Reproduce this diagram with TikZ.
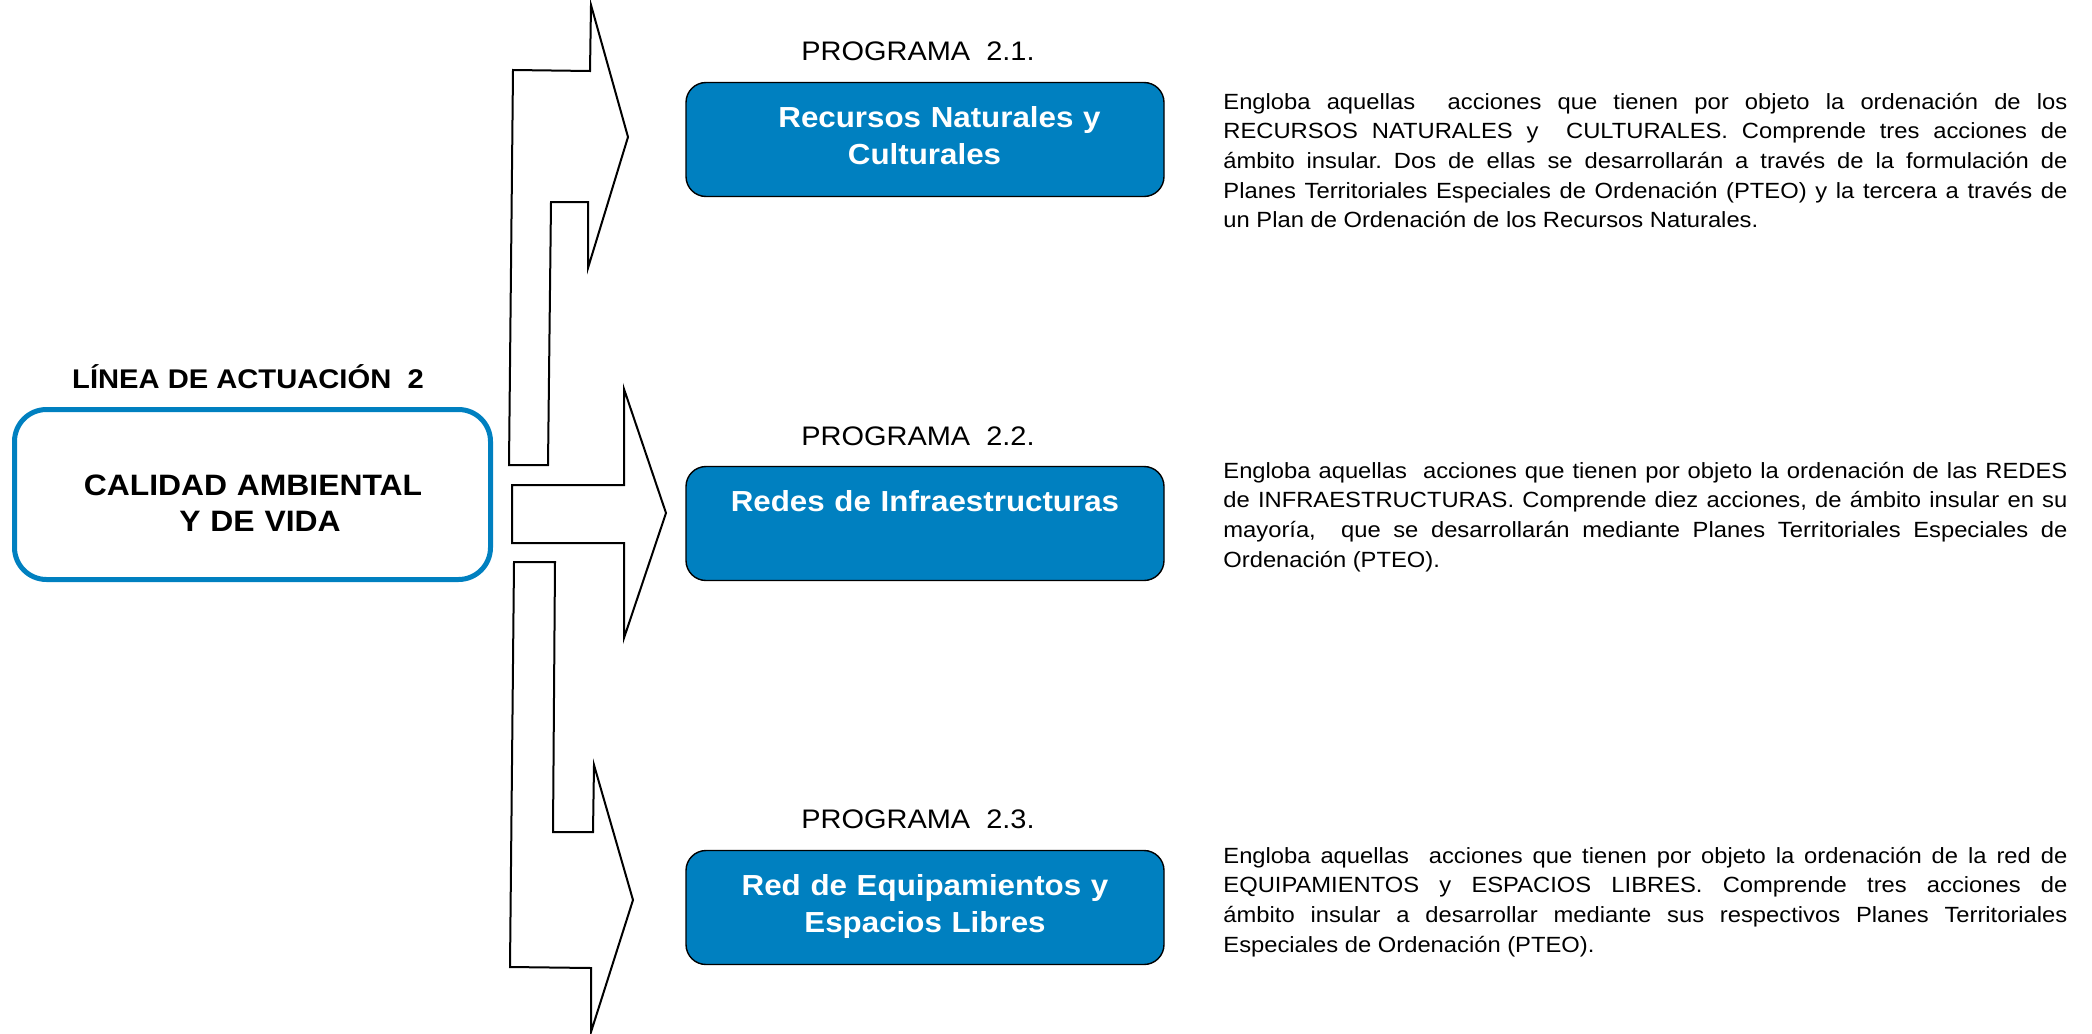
\documentclass[tikz,border=0pt]{standalone}
\usepackage{fontspec}
\setmainfont{Liberation Sans}[FakeStretch=1.08]
\definecolor{azul}{RGB}{0,128,192}
\tolerance=9999
\hyphenpenalty=10000
\frenchspacing
\begin{document}
\begin{tikzpicture}[x=0.5pt,y=-0.5pt,
    flecha/.style={line width=1pt,line join=miter},
    caja/.style={draw=azul,line width=2.5pt,rounded corners=16pt,minimum width=238pt,minimum height=85pt,inner sep=0pt},
    progcaja/.style={draw=black,fill=azul,line width=0.7pt,rounded corners=10pt,minimum width=239pt,minimum height=57pt,inner sep=0pt},
    progtit/.style={text=white,font=\bfseries\fontsize{14.5}{18.5}\selectfont,text width=240pt,align=center,anchor=base,inner sep=0pt},
    prog/.style={font=\fontsize{13.4}{16}\selectfont,anchor=base,inner sep=0pt},
    texto/.style={font=\fontsize{11}{14.85}\selectfont,text width=422pt,align=justify,anchor=base west,inner sep=0pt}]
            \useasboundingbox (0,0) rectangle (2092,1033);
            \def\flechauno{(513,70) -- (590,71) -- (591,5) -- (628,137) -- (588,268) -- (588,202) -- (551,202) -- (548,465) -- (509,465) -- cycle}
            \def\flechados{(512,485) -- (624,485) -- (624,389) -- (666,513) -- (624,638) -- (624,543) -- (512,543) -- cycle}
            \def\flechatres{(514,562) -- (555,562) -- (553,832) -- (593,832) -- (594,765) -- (633,900) -- (591,1032) -- (591,968) -- (510,967) -- cycle}
            \draw [flecha]\flechauno ;
            \draw [flecha]\flechados ;
            \draw [flecha]\flechatres ;
            % linea de actuacion
            \node [font=\bfseries\fontsize{13.5}{16}\selectfont,anchor=base,inner sep=0pt] (lin) at (248,388) {LÍNEA DE ACTUACIÓN\ \ 2};
            \node [caja] (calcaja) at (252.5,494.5) {};
            \node [font=\bfseries\fontsize{14.75}{18.35}\selectfont,text width=240pt,align=center,anchor=base,inner sep=0pt] (caltxt) at (253,495) {CALIDAD AMBIENTAL\\\hspace*{7pt}Y DE VIDA};
            % programas
            \node [prog] (p1) at (918,60) {PROGRAMA\ \ 2.1.};
            \node [progcaja] (c1) at (925,139.5) {};
            \node [progtit] (t1) at (924.5,127.3) {\hspace*{15pt}Recursos Naturales y\\Culturales};
            \node [prog] (p2) at (918,445) {PROGRAMA\ \ 2.2.};
            \node [progcaja] (c2) at (925,523.5) {};
            \node [progtit] (t2) at (925,511.7) {Redes de Infraestructuras};
            \node [prog] (p3) at (918,828) {PROGRAMA\ \ 2.3.};
            \node [progcaja] (c3) at (925,907.5) {};
            \node [progtit] (t3) at (925,895) {Red de Equipamientos y\\Espacios Libres};
            % textos
            \node [texto] (d1) at (1223,109) {Engloba aquellas\ \ acciones que tienen por objeto la ordenación de los\linebreak RECURSOS NATURALES y\ \ CULTURALES. Comprende tres acciones de\linebreak ámbito insular. Dos de ellas se desarrollarán a través de la formulación de\linebreak Planes Territoriales Especiales de Ordenación (PTEO) y la tercera a través de\linebreak un Plan de Ordenación de los Recursos Naturales.};
            \node [texto] (d2) at (1223,478) {Engloba aquellas\ \ acciones que tienen por objeto la ordenación de las REDES\linebreak de INFRAESTRUCTURAS. Comprende diez acciones, de ámbito insular en su\linebreak mayoría,\ \ que se desarrollarán mediante Planes Territoriales Especiales de\linebreak Ordenación (PTEO).};
            \node [texto] (d3) at (1223,863) {Engloba aquellas\ \ acciones que tienen por objeto la ordenación de la red de\linebreak EQUIPAMIENTOS y ESPACIOS LIBRES. Comprende tres acciones de\linebreak ámbito insular a desarrollar mediante sus respectivos Planes Territoriales\linebreak Especiales de Ordenación (PTEO).};
        \end{tikzpicture}
\end{document}
